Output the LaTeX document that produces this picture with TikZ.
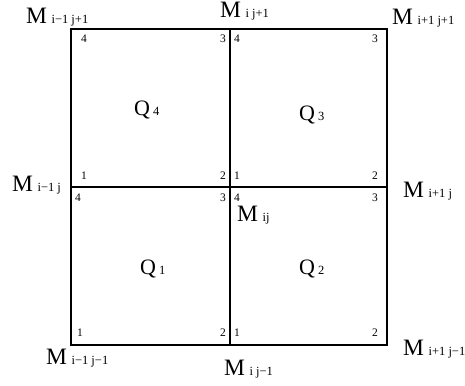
\documentclass[tikz,border=0pt]{standalone}
\usepackage{fontspec}
\setmainfont{Liberation Serif}
\newcommand\bigM{{\fontsize{23.5}{23.5}\selectfont M}}
\newcommand\subt[1]{{\fontsize{12.5}{12.5}\selectfont #1}}
\newcommand\ml[1]{\bigM\hspace{4.5pt}\subt{#1}}
\newcommand\ql[1]{{\fontsize{22}{22}\selectfont Q}\hspace{3pt}{\fontsize{12.5}{12.5}\selectfont #1}}
\begin{document}
\begin{tikzpicture}[x=1pt,y=-1pt,
  lbl/.style={inner sep=0pt,anchor=base west},
  num/.style={inner sep=0pt,font=\fontsize{11.5}{11.5}\selectfont},
  numl/.style={num,anchor=base west},
  numr/.style={num,anchor=base east},
  grid/.style={line width=1.8pt,line cap=rect}]
\useasboundingbox (0,0) rectangle (465,385);
% grid corners
\coordinate (TL) at (71,29);
\coordinate (TM) at (230,29);
\coordinate (TR) at (387,29);
\coordinate (ML) at (71,187);
\coordinate (MM) at (230,187);
\coordinate (MR) at (387,187);
\coordinate (BL) at (71,345);
\coordinate (BM) at (230,345);
\coordinate (BR) at (387,345);
\draw[grid] (TL) -- (TR) -- (BR) -- (BL) -- cycle;
\draw[grid] (TM) -- (BM);
\draw[grid] (ML) -- (MR);
% node labels
\node[lbl] (m1) at (26,24) {\ml{i−1 j+1}};
\node[lbl] (m2) at (220,18) {\ml{i j+1}};
\node[lbl] (m3) at (392,25) {\ml{i+1 j+1}};
\node[lbl] (m4) at (12,191) {\ml{i−1 j}};
\node[lbl] (m5) at (403,197) {\ml{i+1 j}};
\node[lbl] (m6) at (237,221) {\ml{ij}};
\node[lbl] (m7) at (46,364) {\ml{i−1 j−1}};
\node[lbl] (m8) at (224,375) {\ml{i j−1}};
\node[lbl] (m9) at (403,355) {\ml{i+1 j−1}};
% quadrant labels
\node[lbl] (q4) at (134,115) {\ql{4}};
\node[lbl] (q3) at (299,121) {\ql{3}};
\node[lbl] (q1) at (140,274) {\ql{1}};
\node[lbl] (q2) at (299,274) {\ql{2}};
% corner numbers, Q4
\node[numl] (a4) at (81,43) {4};
\node[numr] (a3) at (226,43) {3};
\node[numl] (a1) at (81,179) {1};
\node[numr] (a2) at (226,179) {2};
% Q3
\node[numl] (b4) at (234,43) {4};
\node[numr] (b3) at (378,43) {3};
\node[numl] (b1) at (234,179) {1};
\node[numr] (b2) at (378,179) {2};
% Q1
\node[numl] (c4) at (75,201) {4};
\node[numr] (c3) at (226,201) {3};
\node[numl] (c1) at (77,336) {1};
\node[numr] (c2) at (226,336) {2};
% Q2
\node[numl] (d4) at (234,201) {4};
\node[numr] (d3) at (378,201) {3};
\node[numl] (d1) at (234,336) {1};
\node[numr] (d2) at (378,336) {2};
\end{tikzpicture}
\end{document}
